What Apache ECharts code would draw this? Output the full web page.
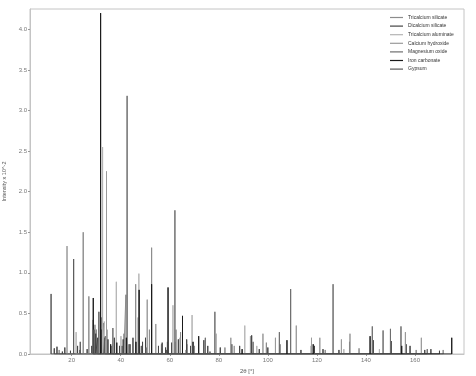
<!DOCTYPE html>
<html>
<head>
<meta charset="utf-8">
<script src="https://cdn.jsdelivr.net/npm/echarts@6/dist/echarts.min.js"></script>
<style>html,body{margin:0;padding:0;background:#fff}#c{width:476px;height:376px}</style>
</head>
<body>
<div id="c"></div>
<script>
// Series names (legend order)
const seriesNames = ['Tricalcium silicate','Dicalcium silicate','Tricalcium aluminate','Calcium hydroxide','Magnesium oxide','Iron carbonate','Gypsum'];
// Peak lists: [2θ, intensity x 10^-2]
const tricalciumSilicate = [[14.9,0.05],[24.7,1.50],[27.0,0.71],[29.5,0.36],[30.1,0.30],[32.2,0.45],[34.4,0.30],[41.3,0.25],[42.1,0.73],[46.1,0.86],[51.7,0.30],[52.6,1.31],[56.6,0.12],[62.3,0.15],[64.4,0.27],[67.0,0.12],[70.1,0.10],[82.5,0.08],[99.4,0.14],[123.4,0.05],[137.2,0.07],[160.5,0.05],[171.5,0.05]];
const dicalciumSilicate = [[12.9,0.07],[14.0,0.09],[16.2,0.03],[17.2,0.08],[19.5,0.04],[22.4,0.10],[23.4,0.05],[26.3,0.06],[28.2,0.10],[29.8,0.25],[30.6,0.20],[32.1,0.30],[32.9,0.38],[33.6,0.22],[34.8,0.18],[36.0,0.10],[37.4,0.20],[39.5,0.10],[41.0,0.18],[43.8,0.12],[45.0,0.20],[48.9,0.15],[50.1,0.20],[55.4,0.10],[56.9,0.14],[58.3,0.08],[60.8,0.14],[63.5,0.18],[66.9,0.18],[68.5,0.10],[73.9,0.17],[75.5,0.10],[80.6,0.08],[85.3,0.12],[88.5,0.10],[93.4,0.23],[96.5,0.06],[100.0,0.08],[104.9,0.12],[113.5,0.05],[119.0,0.10],[122.5,0.06],[129.0,0.05],[133.3,0.15],[143.0,0.17],[150.3,0.16],[156.4,0.12],[158.0,0.10],[164.0,0.05],[166.5,0.06],[170.0,0.04]];
const tricalciumAluminate = [[21.8,0.27],[32.6,2.55],[33.3,0.40],[38.2,0.89],[40.1,0.22],[47.4,0.99],[59.0,0.15],[61.3,0.60],[69.1,0.48],[79.0,0.25],[90.6,0.35],[95.5,0.10],[117.6,0.10],[131.0,0.06],[145.5,0.06]];
const calciumHydroxide = [[18.1,1.33],[28.7,0.42],[34.2,2.25],[47.1,0.45],[50.8,0.67],[54.3,0.37],[62.6,0.30],[64.2,0.20],[84.9,0.20],[86.3,0.10],[92.9,0.22],[98.0,0.25],[103.1,0.20],[111.6,0.35],[117.8,0.20],[121.2,0.20],[130.0,0.18],[133.5,0.25],[156.1,0.27],[162.6,0.20]];
const magnesiumOxide = [[36.8,0.32],[42.6,3.18],[62.1,1.77],[74.5,0.20],[78.4,0.52],[94.0,0.15],[104.7,0.27],[109.3,0.80],[126.6,0.86],[142.6,0.34],[147.0,0.29],[150.0,0.31],[154.3,0.34],[165.0,0.06]];
const ironCarbonate = [[28.8,0.69],[31.8,4.20],[35.9,0.12],[38.4,0.14],[42.3,0.20],[46.2,0.15],[47.5,0.79],[52.6,0.86],[59.3,0.82],[65.2,0.47],[69.5,0.15],[71.8,0.22],[89.5,0.06],[107.8,0.17],[118.5,0.12],[141.7,0.22],[154.6,0.10],[175.0,0.20]];
const gypsum = [[11.6,0.74],[20.8,1.17],[23.5,0.15],[29.1,0.30],[31.1,0.52],[33.4,0.20],[40.6,0.10],[43.4,0.12],[48.4,0.10],[50.3,0.08],[56.8,0.07],[58.7,0.05],[66.7,0.05],[76.4,0.03]];
const xTicks = [20,40,60,80,100,120,140,160];
const yTicks = [0,0.5,1.0,1.5,2.0,2.5,3.0,3.5,4.0];

const allPeaks = [tricalciumSilicate,dicalciumSilicate,tricalciumAluminate,calciumHydroxide,magnesiumOxide,ironCarbonate,gypsum];
const colors = ['#8c8c8c','#444444','#b4b4b4','#9a9a9a','#6e6e6e','#1a1a1a','#5a5a5a'];

function sticks(peaks){
  const s = peaks.slice().sort((a,b)=>a[0]-b[0]);
  const out = [];
  s.forEach(p=>{ out.push([p[0],0]); out.push([p[0],p[1]]); out.push([p[0],0]); });
  return out;
}

const chart = echarts.init(document.getElementById('c'), null, {renderer:'canvas'});
const labelStyle = {color:'#777', fontSize:6, fontFamily:'Liberation Sans'};
chart.setOption({
  animation:false,
  backgroundColor:'#fff',
  grid:{left:30, right:12, top:9, bottom:22, show:true, borderColor:'#c4c4c4', borderWidth:1, containLabel:false, outerBoundsMode:'none'},
  legend:{
    orient:'vertical', left:390, top:14, icon:'rect', itemWidth:13, itemHeight:1.2, itemGap:1.6, padding:0,
    textStyle:{color:'#333', fontSize:5, lineHeight:7, fontFamily:'Liberation Sans'},
    data: seriesNames
  },
  xAxis:{
    type:'value', min:3, max:180,
    name:'2θ [°]', nameLocation:'middle', nameGap:13,
    nameTextStyle:{color:'#555', fontSize:6, fontFamily:'Liberation Sans'},
    axisLine:{show:true, lineStyle:{color:'#c4c4c4'}},
    axisTick:{show:true, length:2, customValues:xTicks, lineStyle:{color:'#999'}},
    axisLabel:Object.assign({margin:3, customValues:xTicks}, labelStyle),
    splitLine:{show:false}
  },
  yAxis:{
    type:'value', min:0, max:4.25,
    name:'Intensity x 10^-2', nameLocation:'middle', nameGap:19,
    nameTextStyle:{color:'#555', fontSize:5.5, fontFamily:'Liberation Sans'},
    axisLine:{show:true, lineStyle:{color:'#c4c4c4'}},
    axisTick:{show:true, length:2, customValues:yTicks, lineStyle:{color:'#999'}},
    axisLabel:Object.assign({margin:3, customValues:yTicks, formatter:v=>v.toFixed(1)}, labelStyle),
    splitLine:{show:false}
  },
  series: seriesNames.map((n,i)=>({
    name:n, type:'line', data:sticks(allPeaks[i]), showSymbol:false, symbol:'none',
    color:colors[i], lineStyle:{width:1, color:colors[i]}, itemStyle:{color:colors[i]},
    clip:true
  }))
});
</script>
</body>
</html>
